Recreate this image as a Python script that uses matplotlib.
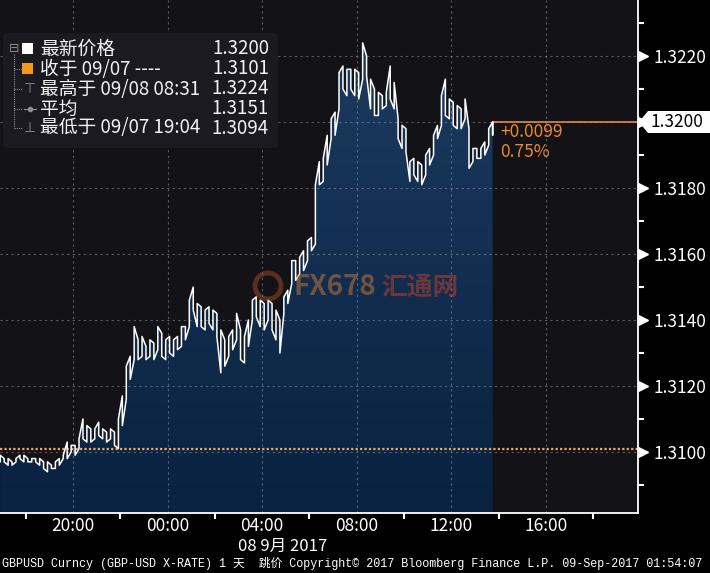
import matplotlib.pyplot as plt
import numpy as np
from matplotlib.patches import Polygon, FancyBboxPatch, Rectangle, Ellipse
from matplotlib.colors import LinearSegmentedColormap
import matplotlib.transforms as mtransforms

plt.rcParams['font.family'] = ['Noto Sans CJK SC', 'DejaVu Sans']

# 10 minute bars from 09/07 16:55 to 09/08 13:45 (hours counted from 09/07 00:00)
start_hour = 16 + 55 / 60
bar_high = [1.3099, 1.3098, 1.3098, 1.3097, 1.3098, 1.3099, 1.3099, 1.3098, 1.3098, 1.3098,
            1.3098, 1.3097, 1.3097, 1.3096, 1.3097, 1.3098, 1.3099, 1.3103, 1.3102, 1.3102,
            1.3104, 1.3110, 1.3108, 1.3107, 1.3107, 1.3109, 1.3107, 1.3106, 1.3107, 1.3106,
            1.3110, 1.3117, 1.3126, 1.3129, 1.3138, 1.3134, 1.3135, 1.3132, 1.3134, 1.3133,
            1.3138, 1.3136, 1.3134, 1.3135, 1.3134, 1.3135, 1.3138, 1.3138, 1.3146, 1.3150,
            1.3145, 1.3144, 1.3143, 1.3144, 1.3143, 1.3142, 1.3137, 1.3134, 1.3135, 1.3137,
            1.3142, 1.3137, 1.3135, 1.3140, 1.3146, 1.3147, 1.3146, 1.3145, 1.3146, 1.3145,
            1.3143, 1.3140, 1.3147, 1.3149, 1.3158, 1.3158, 1.3159, 1.3161, 1.3164, 1.3165,
            1.3181, 1.3188, 1.3189, 1.3196, 1.3201, 1.3203, 1.3215, 1.3217, 1.3216, 1.3216,
            1.3216, 1.3215, 1.3224, 1.3220, 1.3213, 1.3210, 1.3209, 1.3208, 1.3209, 1.3217,
            1.3212, 1.3201, 1.3199, 1.3198, 1.3188, 1.3189, 1.3188, 1.3187, 1.3190, 1.3192,
            1.3196, 1.3199, 1.3208, 1.3213, 1.3207, 1.3206, 1.3205, 1.3204, 1.3207, 1.3198,
            1.3192, 1.3192, 1.3192, 1.3194, 1.3198, 1.3200]
bar_low = [1.3097, 1.3097, 1.3096, 1.3096, 1.3097, 1.3098, 1.3097, 1.3097, 1.3097, 1.3097,
           1.3096, 1.3095, 1.3094, 1.3095, 1.3095, 1.3096, 1.3098, 1.3098, 1.3100, 1.3099,
           1.3101, 1.3104, 1.3103, 1.3103, 1.3104, 1.3105, 1.3104, 1.3103, 1.3104, 1.3102,
           1.3101, 1.3108, 1.3116, 1.3122, 1.3128, 1.3128, 1.3129, 1.3128, 1.3129, 1.3128,
           1.3131, 1.3129, 1.3128, 1.3130, 1.3129, 1.3131, 1.3132, 1.3134, 1.3138, 1.3143,
           1.3138, 1.3138, 1.3137, 1.3139, 1.3137, 1.3135, 1.3124, 1.3126, 1.3129, 1.3131,
           1.3134, 1.3128, 1.3127, 1.3132, 1.3140, 1.3141, 1.3138, 1.3137, 1.3140, 1.3137,
           1.3134, 1.3130, 1.3142, 1.3145, 1.3151, 1.3152, 1.3154, 1.3155, 1.3158, 1.3161,
           1.3163, 1.3181, 1.3182, 1.3187, 1.3195, 1.3196, 1.3204, 1.3210, 1.3208, 1.3210,
           1.3208, 1.3207, 1.3213, 1.3214, 1.3204, 1.3202, 1.3202, 1.3204, 1.3205, 1.3207,
           1.3204, 1.3195, 1.3192, 1.3191, 1.3182, 1.3184, 1.3182, 1.3181, 1.3184, 1.3187,
           1.3190, 1.3195, 1.3199, 1.3202, 1.3201, 1.3199, 1.3198, 1.3198, 1.3201, 1.3186,
           1.3188, 1.3189, 1.3189, 1.3190, 1.3193, 1.3196]
last_price = 1.3200
prev_close = 1.3101
change_text = ['+0.0099', '0.75%']

x_ticks = [20, 24, 28, 32, 36, 40]
x_labels = ['20:00', '00:00', '04:00', '08:00', '12:00', '16:00']
y_ticks = [1.3100, 1.3120, 1.3140, 1.3160, 1.3180, 1.3200, 1.3220]

legend_names = ['最新价格', '收于 09/07 ----', '最高于 09/08 08:31', '平均', '最低于 09/07 19:04']
legend_values = ['1.3200', '1.3101', '1.3224', '1.3151', '1.3094']

W, H = 710, 573
def fx(px):
    return px / W
def fy(py):
    return 1 - py / H

fig = plt.figure(figsize=(7.1, 5.73), dpi=100, facecolor='black')
ax = fig.add_axes([0, 60 / H, 638 / W, 513 / H])
ax.set_facecolor('#131217')

xmin, xmax = 16.907, 43.9
ymin, ymax = 1.30815, 1.32370

t = start_hour + np.arange(len(bar_high)) / 6
xs, ys = [], []
for i in range(len(t)):
    xs += [t[i], t[i]]
    if i % 2 == 0:
        ys += [bar_low[i], bar_high[i]]
    else:
        ys += [bar_high[i], bar_low[i]]
xs.append(t[-1])
ys.append(last_price)

# gradient fill under the price line
verts = [(xs[0], ymin)] + list(zip(xs, ys)) + [(xs[-1], ymin)]
clip = Polygon(verts, closed=True, transform=ax.transData)
cmap = LinearSegmentedColormap.from_list('fill', ['#0a2140', '#1c3d61'])
img = ax.imshow(np.linspace(0, 1, 256).reshape(-1, 1), cmap=cmap, origin='lower',
                extent=[xmin, xmax, ymin, ymax], aspect='auto', zorder=0.5)
img.set_clip_path(clip)

ax.plot(xs, ys, color='white', lw=1.1, zorder=3)

ax.axhline(prev_close, color='#f2a55c', lw=1.6, linestyle=(0, (1, 1)), zorder=2.5)
ax.plot([t[-1], xmax], [last_price, last_price], color='#e8883a', lw=1.2, zorder=2.5)
ax.text(38.07, 1.31970, change_text[0], color='#e8892a', fontsize=12.5, va='center')
ax.text(38.07, 1.31909, change_text[1], color='#e8892a', fontsize=12.5, va='center')

ax.set_xlim(xmin, xmax)
ax.set_ylim(ymin, ymax)

ax.set_xticks(x_ticks)
ax.set_xticklabels(x_labels)
ax.set_xticks([18, 22, 26, 30, 34, 38, 42], minor=True)
ax.set_yticks(y_ticks)
# the last price box sits on top of the 1.3200 label
ax.set_yticklabels(['' if abs(v - last_price) < 1e-9 else '%.4f' % v for v in y_ticks])
ax.set_yticks(np.arange(1.3090, 1.3235, 0.002), minor=True)
ax.yaxis.tick_right()
ax.tick_params(axis='both', which='major', length=0, colors='white', labelsize=12.5)
ax.tick_params(axis='y', which='major', pad=11)
ax.tick_params(axis='x', which='major', pad=3)
ax.tick_params(axis='both', which='minor', length=4, width=1.5, color='white', direction='out')

ax.grid(True, which='major', color='#8a99aa', alpha=0.55, lw=0.8, linestyle=(0, (2, 3)))

for s in ['top', 'left']:
    ax.spines[s].set_visible(False)
for s in ['right', 'bottom']:
    ax.spines[s].set_color('white')
    ax.spines[s].set_linewidth(1.3)

# triangle markers at the price ticks
offset = mtransforms.ScaledTranslation(5 / 100, 0, fig.dpi_scale_trans)
ax.plot(np.ones(len(y_ticks)), y_ticks, linestyle='none', marker='>', ms=7, color='white',
        transform=ax.get_yaxis_transform() + offset, clip_on=False, zorder=5)

# last price box
box = Polygon([(fx(639), fy(122)), (fx(648), fy(111)), (fx(710), fy(111)),
               (fx(710), fy(133)), (fx(648), fy(133))], closed=True,
              transform=fig.transFigure, facecolor='white', edgecolor='none')
fig.patches.append(box)
fig.text(fx(651), fy(122), '%.4f' % last_price, color='black', fontsize=12.5, va='center')

# legend panel
panel = FancyBboxPatch((fx(3), fy(148)), 275 / W, 115 / H,
                       boxstyle='round,pad=0,rounding_size=0.008',
                       transform=fig.transFigure, facecolor='#1b1a20', edgecolor='none')
fig.patches.append(panel)
rows = [49, 69, 89, 109, 128]
for r, name, val in zip(rows, legend_names, legend_values):
    fig.text(fx(40), fy(r), name, color='#f2f2f2', fontsize=13.5, va='center')
    fig.text(fx(269), fy(r), val, color='#f2f2f2', fontsize=13.5, va='center', ha='right')
fig.patches.append(Rectangle((fx(22), fy(54)), 11 / W, 11 / H, transform=fig.transFigure,
                             facecolor='white', edgecolor='none'))
fig.patches.append(Rectangle((fx(22), fy(74)), 11 / W, 11 / H, transform=fig.transFigure,
                             facecolor='#f39a1e', edgecolor='none'))
tree = '#8c8c8c'
fig.text(fx(14), fy(49), '⊟', color=tree, fontsize=9, ha='center', va='center',
         family='DejaVu Sans')
fig.lines.append(plt.Line2D([fx(14), fx(14)], [fy(54), fy(128)], transform=fig.transFigure,
                            color=tree, lw=0.8, linestyle=(0, (1, 1))))
for r in rows[1:]:
    fig.lines.append(plt.Line2D([fx(14), fx(22)], [fy(r), fy(r)], transform=fig.transFigure,
                                color=tree, lw=0.8, linestyle=(0, (1, 1))))
fig.text(fx(30), fy(89), '⊤', color=tree, fontsize=10, ha='center', va='center',
         family='DejaVu Sans')
fig.lines.append(plt.Line2D([fx(24), fx(36)], [fy(109), fy(109)], transform=fig.transFigure,
                            color=tree, lw=0.8))
fig.lines.append(plt.Line2D([fx(30)], [fy(109)], transform=fig.transFigure,
                            color=tree, marker='o', ms=3, linestyle='none'))
fig.text(fx(30), fy(128), '⊥', color=tree, fontsize=10, ha='center', va='center',
         family='DejaVu Sans')

# watermark
fig.patches.append(Ellipse((fx(268), fy(286)), 26 / W, 26 / H, transform=fig.transFigure,
                           facecolor='none', edgecolor='#c85a2a', lw=3.5, alpha=0.4))
fig.text(fx(293), fy(287), 'FX678', color='#d07a30', alpha=0.5, fontsize=20,
         fontweight='bold', va='center')
fig.text(fx(381), fy(287), '汇通网', color='#c8402a', alpha=0.5, fontsize=18.5,
         fontweight='bold', va='center')

fig.text(fx(283), fy(546), '08 9月 2017', color='white', fontsize=12, ha='center', va='center')
footer = 'GBPUSD Curncy (GBP-USD X-RATE) 1 天  跳价 Copyright© 2017 Bloomberg Finance L.P. 09-Sep-2017 01:54:07'
fig.text(fx(2), fy(564), footer, color='white', fontsize=8.5, va='center',
         family=['Liberation Mono', 'Noto Sans CJK SC'])

fig.savefig('out.png', dpi=100, facecolor='black')
